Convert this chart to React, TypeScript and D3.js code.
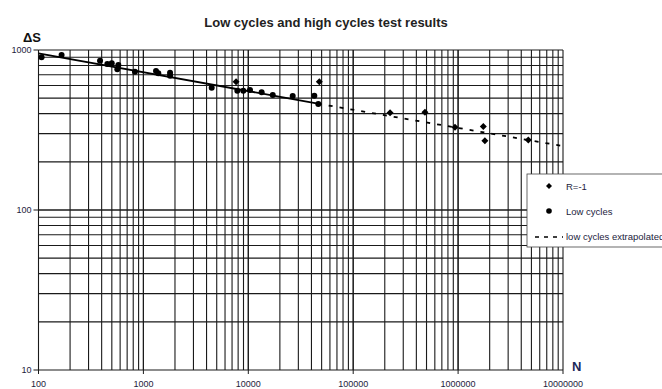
import React from "react";
import * as d3 from "d3";

const W = 662;
const H = 389;

const xDecades = [100, 1000, 10000, 100000, 1000000, 10000000];
const xTickLabels = ["100", "1000", "10000", "100000", "1000000", "10000000"];
const yDecades = [10, 100, 1000];
const yTickLabels = ["10", "100", "1000"];

// Low cycles (circles)
const lowN = [107, 166, 386, 453, 499, 564, 577, 831, 1319, 1387, 1795, 1795, 4477, 7860, 8960, 10380, 13400, 17100, 26500, 42600, 46500];
const lowS = [900, 930, 858, 818, 826, 757, 806, 731, 739, 715, 721, 691, 581, 557, 557, 562, 545, 524, 516, 518, 460];

// R=-1 (diamonds)
const rN = [7640, 47500, 224500, 483000, 934000, 1740000, 1800000, 4670000];
const rS = [634, 634, 405, 408, 329, 332, 271, 274];

// fitted line (low cycles) and extrapolation
const fitN = [100, 46000];
const fitS = [953, 462];
const extN = [46000, 10000000];
const extS = [462, 251];

const legendLabels = ["R=-1", "Low cycles", "low cycles extrapolated"];

export default function App() {
  const left = 38.5, right = 563, top = 50, bottom = 370;
  const x = d3.scaleLog().domain([100, 1e7]).range([left, right]);
  const y = d3.scaleLog().domain([10, 1000]).range([bottom, top]);

  const vGrid: number[] = [];
  for (let d = 100; d < 1e7; d *= 10) for (let k = 1; k <= 10; k++) vGrid.push(d * k);
  const hGrid: number[] = [];
  for (let d = 10; d < 1000; d *= 10) for (let k = 1; k <= 10; k++) hGrid.push(d * k);

  const line = d3.line<[number, number]>().x(d => x(d[0])).y(d => y(d[1]));
  const gridColor = "#1a1a1a";
  const txt = "#1c1c3c";

  const diamond = (cx: number, cy: number, r: number) =>
    `M${cx},${cy - r}L${cx + r},${cy}L${cx},${cy + r}L${cx - r},${cy}Z`;

  return (
    <svg width={W} height={H} style={{ position: "absolute", left: 0, top: 0, background: "#fff" }} fontFamily="Liberation Sans, Arial, sans-serif">
      <rect x={0} y={0} width={W} height={H} fill="#fff" />
      <text x={326} y={27} textAnchor="middle" fontSize={13} fontWeight="bold" fill="#222">Low cycles and high cycles test results</text>
      <text x={23} y={42} fontSize={13} fontWeight="bold" fill="#111">ΔS</text>
      {vGrid.map((v, i) => (
        <line key={"v" + i} x1={x(v)} x2={x(v)} y1={top} y2={bottom} stroke={gridColor} strokeWidth={1.1} />
      ))}
      {hGrid.map((v, i) => (
        <line key={"h" + i} x1={left} x2={right} y1={y(v)} y2={y(v)} stroke={gridColor} strokeWidth={1.1} />
      ))}
      {yDecades.map((v, i) => (
        <g key={"yt" + i}>
          <line x1={left - 5} x2={left} y1={y(v)} y2={y(v)} stroke={gridColor} />
          <text x={left - 7} y={y(v) + 3} textAnchor="end" fontSize={9} fill={txt}>{yTickLabels[i]}</text>
        </g>
      ))}
      {xDecades.map((v, i) => (
        <g key={"xt" + i}>
          <line x1={x(v)} x2={x(v)} y1={bottom} y2={bottom + 4} stroke={gridColor} />
          <text x={x(v)} y={bottom + 17} textAnchor="middle" fontSize={9} fill={txt}>{xTickLabels[i]}</text>
        </g>
      ))}
      <text x={572} y={371} fontSize={13} fontWeight="bold" fill="#1c2a5a">N</text>
      <path d={line(fitN.map((n, i) => [n, fitS[i]]) as [number, number][]) || ""} stroke="#000" strokeWidth={1.8} fill="none" />
      <path d={line(extN.map((n, i) => [n, extS[i]]) as [number, number][]) || ""} stroke="#000" strokeWidth={1.8} fill="none" strokeDasharray="4,7" />
      {lowN.map((n, i) => (
        <circle key={"c" + i} cx={x(n)} cy={y(lowS[i])} r={3} fill="#000" />
      ))}
      {rN.map((n, i) => (
        <path key={"d" + i} d={diamond(x(n), y(rS[i]), 3.5)} fill="#000" />
      ))}
      <g>
        <rect x={527} y={174} width={150} height={73} fill="#fff" stroke="#444" strokeWidth={0.8} />
        <path d={diamond(549, 186, 3)} fill="#000" />
        <text x={566} y={189.5} fontSize={9.5} fill={txt}>{legendLabels[0]}</text>
        <circle cx={549} cy={211} r={2.8} fill="#000" />
        <text x={566} y={214.5} fontSize={9.5} fill={txt}>{legendLabels[1]}</text>
        <line x1={535} x2={563} y1={237} y2={237} stroke="#000" strokeWidth={1.5} strokeDasharray="4,5" />
        <text x={566} y={240} fontSize={9.5} fill={txt}>{legendLabels[2]}</text>
      </g>
    </svg>
  );
}
